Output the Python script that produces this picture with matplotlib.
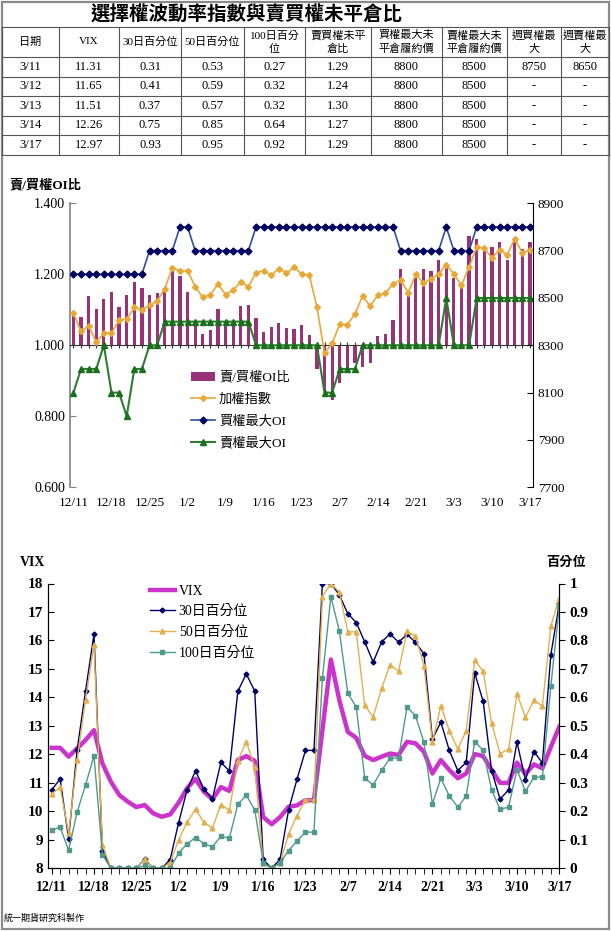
import matplotlib.pyplot as plt
from matplotlib.ticker import FormatStrFormatter, FuncFormatter
from matplotlib.transforms import blended_transform_factory
import numpy as np

plt.rcParams['font.family'] = ['Liberation Serif', 'Noto Sans CJK TC']
CJK = 'Noto Sans CJK TC'

# x-axis labels, one every 5 trading days (12/11 ... 3/17, 61 days)
date_labels = ['12/11', '12/18', '12/25', '1/2', '1/9', '1/16', '1/23',
               '2/7', '2/14', '2/21', '3/3', '3/10', '3/17']

# put/call open interest ratio
ratio = [1.087, 1.079, 1.139, 1.101, 1.131, 1.150, 1.108, 1.143, 1.178, 1.162,
         1.141, 1.146, 1.160, 1.209, 1.196, 1.150, 1.065, 1.033, 1.044, 1.103,
         1.066, 1.062, 1.112, 1.114, 1.077, 1.037, 1.051, 1.064, 1.049, 1.045,
         1.056, 1.030, 0.932, 0.870, 0.847, 0.893, 0.932, 0.950, 0.938, 0.950,
         1.027, 1.033, 1.070, 1.216, 1.141, 1.190, 1.216, 1.209, 1.240, 1.221,
         1.189, 1.161, 1.308, 1.299, 1.272, 1.277, 1.29, 1.24, 1.30, 1.27,
         1.29]

# TAIEX
taiex = [8435, 8359, 8382, 8314, 8351, 8351, 8407, 8410, 8460, 8449,
         8469, 8486, 8539, 8627, 8615, 8615, 8548, 8503, 8514, 8559,
         8514, 8534, 8567, 8548, 8607, 8615, 8596, 8624, 8605, 8630,
         8601, 8596, 8463, 8266, 8308, 8390, 8387, 8432, 8508, 8466,
         8511, 8520, 8559, 8576, 8522, 8601, 8562, 8581, 8601, 8641,
         8601, 8553, 8632, 8714, 8710, 8669, 8703, 8683, 8750, 8691,
         8703]

# strike with max open interest
call_max = [8600] * 10 + [8700] * 4 + [8800] * 2 + [8700] * 8 + [8800] * 19 + \
           [8700] * 6 + [8800] + [8700] * 3 + [8800] * 8
put_max = [8100] + [8200] * 3 + [8300] + [8100] * 2 + [8000] + [8200] * 2 + \
          [8300] * 2 + [8400] * 12 + [8300] * 9 + [8100] * 2 + [8200] * 3 + \
          [8300] * 11 + [8500] + [8300] * 3 + [8500] * 8

# VIX and percentiles
vix = [12.23, 12.23, 11.92, 12.21, 12.50, 12.85, 11.68, 11.04, 10.57, 10.34,
       10.15, 10.22, 9.93, 9.81, 9.89, 10.30, 10.81, 11.14, 10.69, 10.43,
       10.85, 10.72, 11.80, 11.94, 11.77, 9.80, 9.55, 9.80, 10.16, 10.21,
       10.39, 10.39, 12.85, 15.33, 13.90, 12.79, 12.58, 11.95, 11.80, 11.92,
       12.03, 11.98, 12.44, 12.39, 12.09, 11.33, 11.80, 11.45, 11.16, 11.33,
       12.01, 11.94, 11.45, 11.00, 11.00, 11.71, 11.31, 11.65, 11.51, 12.26,
       12.97]
pct30 = [0.275, 0.314, 0.103, 0.414, 0.622, 0.822, 0.062, 0, 0, 0,
         0, 0.033, 0, 0, 0.03, 0.16, 0.275, 0.342, 0.278, 0.244,
         0.372, 0.342, 0.621, 0.683, 0.622, 0.031, 0, 0.032, 0.205, 0.313,
         0.414, 0.414, 1.0, 1.0, 0.96, 0.894, 0.863, 0.795, 0.724, 0.795,
         0.823, 0.794, 0.821, 0.794, 0.753, 0.454, 0.513, 0.414, 0.343, 0.372,
         0.686, 0.586, 0.343, 0.243, 0.275, 0.443, 0.31, 0.41, 0.37, 0.75,
         0.93]
pct50 = [0.261, 0.285, 0.123, 0.379, 0.592, 0.785, 0.082, 0, 0, 0,
         0, 0.033, 0, 0, 0.02, 0.10, 0.161, 0.207, 0.161, 0.141,
         0.224, 0.203, 0.377, 0.444, 0.356, 0.018, 0, 0.018, 0.12, 0.185,
         0.24, 0.24, 0.954, 1.0, 0.97, 0.83, 0.83, 0.572, 0.532, 0.632,
         0.714, 0.692, 0.832, 0.815, 0.712, 0.442, 0.571, 0.483, 0.419, 0.483,
         0.730, 0.692, 0.510, 0.402, 0.419, 0.613, 0.53, 0.59, 0.57, 0.85,
         0.95]
pct100 = [0.135, 0.144, 0.064, 0.196, 0.293, 0.395, 0.047, 0, 0, 0,
          0, 0.01, 0, 0, 0, 0.053, 0.086, 0.108, 0.086, 0.076,
          0.112, 0.106, 0.225, 0.256, 0.206, 0.02, 0, 0.02, 0.062, 0.096,
          0.127, 0.127, 0.668, 0.954, 0.834, 0.615, 0.566, 0.316, 0.293, 0.344,
          0.387, 0.387, 0.566, 0.536, 0.442, 0.226, 0.316, 0.254, 0.215, 0.254,
          0.445, 0.414, 0.275, 0.207, 0.215, 0.346, 0.27, 0.32, 0.32, 0.64,
          0.92]

# table (last five days)
table_dates = ['3/11', '3/12', '3/13', '3/14', '3/17']
weekly_call = ['8750', '-', '-', '-', '-']
weekly_put = ['8650', '-', '-', '-', '-']
headers = ['日期', 'VIX', '30日百分位', '50日百分位', '100日百分\n位', '賣買權未平\n倉比',
           '買權最大未\n平倉履約價', '賣權最大未\n平倉履約價', '週買權最\n大', '週賣權最\n大']

x = np.arange(len(ratio))
W, H = 611, 931
fig = plt.figure(figsize=(W / 100, H / 100), dpi=100)


def frac(l, t, r, b):
    return [l / W, 1 - b / H, (r - l) / W, (b - t) / H]


# ---- overlay: title, table, borders, footnote
oax = fig.add_axes([0, 0, 1, 1])
oax.set_xlim(0, W)
oax.set_ylim(H, 0)
oax.axis('off')
oax.add_patch(plt.Rectangle((1.5, 1.5), W - 3.5, H - 3.5, fill=False, ec='#8a8a8a', lw=1.6))
oax.text(247, 15, '選擇權波動率指數與賣買權未平倉比', family=CJK, fontsize=14,
         fontweight='bold', ha='center', va='center')

col_edges = [2, 59, 119, 181, 244, 305, 371, 442, 507, 561, 609]
row_edges = [27, 57, 76.5, 96, 115.5, 135, 154.5]
for yy in row_edges:
    oax.plot([col_edges[0], col_edges[-1]], [yy, yy], color='#555555', lw=0.8)
for xx in col_edges:
    oax.plot([xx, xx], [row_edges[0], row_edges[-1]], color='#555555', lw=0.8)

cols = [table_dates,
        ['%.2f' % v for v in vix[-5:]],
        ['%.2f' % v for v in pct30[-5:]],
        ['%.2f' % v for v in pct50[-5:]],
        ['%.2f' % v for v in pct100[-5:]],
        ['%.2f' % v for v in ratio[-5:]],
        [str(v) for v in call_max[-5:]],
        [str(v) for v in put_max[-5:]],
        weekly_call, weekly_put]
for c in range(10):
    cx = (col_edges[c] + col_edges[c + 1]) / 2
    oax.text(cx, (row_edges[0] + row_edges[1]) / 2, headers[c], ha='center', va='center',
             fontsize=8, linespacing=1.35)
    for r in range(5):
        cy = (row_edges[r + 1] + row_edges[r + 2]) / 2
        oax.text(cx, cy, cols[c][r], ha='center', va='center', fontsize=9)

oax.text(10, 185, '賣/買權OI比', fontsize=9.5, fontweight='bold', va='center')
oax.text(20, 562, 'VIX', fontsize=10, fontweight='bold', va='center')
oax.text(566, 563, '百分位', fontsize=9.5, fontweight='bold', va='center', ha='center')
oax.text(4, 918, '統一期貨研究科製作', family=CJK, fontsize=6.5, va='center')

# ---- upper chart: OI ratio + TAIEX + max OI strikes
ax1 = fig.add_axes(frac(70, 203.3, 533, 487.3))
ax1.patch.set_visible(False)
ax1.bar(x, np.array(ratio) - 1, bottom=1.0, width=0.42, color='#993377',
        label='賣/買權OI比', zorder=2)
ax1.set_xlim(-0.45, 60.4)
ax1.set_ylim(0.6, 1.4)
ax1.set_yticks(np.arange(0.6, 1.41, 0.2))
ax1.yaxis.set_major_formatter(FormatStrFormatter('%.3f'))
ax1.tick_params(axis='y', direction='in', length=4, labelsize=10, color='#808080')
ax1.spines['top'].set_visible(False)
ax1.spines['right'].set_visible(False)
ax1.spines['left'].set_color('#808080')
ax1.spines['left'].set_linewidth(1.2)
ax1.spines['bottom'].set_position(('data', 1.0))
ax1.spines['bottom'].set_color('#333333')
ax1.set_xticks(x)
ax1.tick_params(axis='x', direction='inout', length=4, labelbottom=False, color='#333333')
trans = blended_transform_factory(ax1.transData, ax1.transAxes)
for i, lab in zip(x[::5], date_labels):
    ax1.text(i, -0.055, lab, transform=trans, ha='center', va='center', fontsize=9.5)

ax2 = ax1.twinx()
ax2.plot(x, taiex, color='#E8A838', marker='D', ms=3, lw=1.2, label='加權指數')
ax2.plot(x, call_max, color='#2F4F9F', marker='D', ms=3.5, mfc='#000060', mec='#000060',
         lw=1.2, label='買權最大OI')
ax2.plot(x, put_max, color='#2E7D32', marker='^', ms=4.5, mfc='#1B6E1B', mec='#1B6E1B',
         lw=1.5, label='賣權最大OI')
ax2.set_ylim(7700, 8900)
ax2.set_yticks(np.arange(7700, 8901, 200))
ax2.tick_params(axis='y', direction='in', length=4, labelsize=9.5)
for s in ['top', 'left', 'bottom']:
    ax2.spines[s].set_visible(False)

h1, l1 = ax1.get_legend_handles_labels()
h2, l2 = ax2.get_legend_handles_labels()
fig.legend(h1 + h2, l1 + l2, loc='upper left', bbox_to_anchor=(186 / W, 1 - 366 / H),
           frameon=False, fontsize=9.5, handlelength=1.8, labelspacing=0.72,
           handletextpad=0.3, borderaxespad=0)

# ---- lower chart: VIX + percentiles
ax3 = fig.add_axes(frac(48.3, 583.5, 559.3, 868.3))
ax3.patch.set_visible(False)
ax3.plot(x, vix, color='#CC33CC', lw=3.2, label='VIX', zorder=3)
ax3.set_xlim(-0.4, 60)
ax3.set_ylim(8, 18)
ax3.set_yticks(range(8, 19))
ax3.set_xticks(x, minor=True)
ax3.set_xticks(x[::5], labels=date_labels)
ax3.tick_params(axis='x', which='both', direction='out', length=4, labelsize=10, pad=5)
ax3.tick_params(axis='y', direction='in', length=4, labelsize=11)
for lab in ax3.get_xticklabels() + ax3.get_yticklabels():
    lab.set_fontweight('bold')
ax3.spines['top'].set_visible(False)

ax4 = ax3.twinx()
ax4.plot(x, pct30, color='#000066', marker='D', ms=2.5, lw=1, label='30日百分位')
ax4.plot(x, pct50, color='#E0B050', marker='^', ms=3.5, lw=1, label='50日百分位')
ax4.plot(x, pct100, color='#4F9A8A', marker='s', ms=2.5, lw=1, label='100日百分位')
ax4.set_ylim(0, 1)
ax4.set_yticks(np.arange(0, 1.01, 0.1))
ax4.yaxis.set_major_formatter(FuncFormatter(lambda v, p: '%g' % round(v, 1)))
ax4.tick_params(axis='y', direction='out', length=4, labelsize=11)
for lab in ax4.get_yticklabels():
    lab.set_fontweight('bold')
ax4.spines['top'].set_visible(False)

h3, l3 = ax3.get_legend_handles_labels()
h4, l4 = ax4.get_legend_handles_labels()
fig.legend(h3 + h4, l3 + l4, loc='upper left', bbox_to_anchor=(144 / W, 1 - 579 / H),
           frameon=False, fontsize=10, handlelength=1.8, labelspacing=0.55,
           handletextpad=0.3, borderaxespad=0)

fig.savefig('out.png', dpi=100)
